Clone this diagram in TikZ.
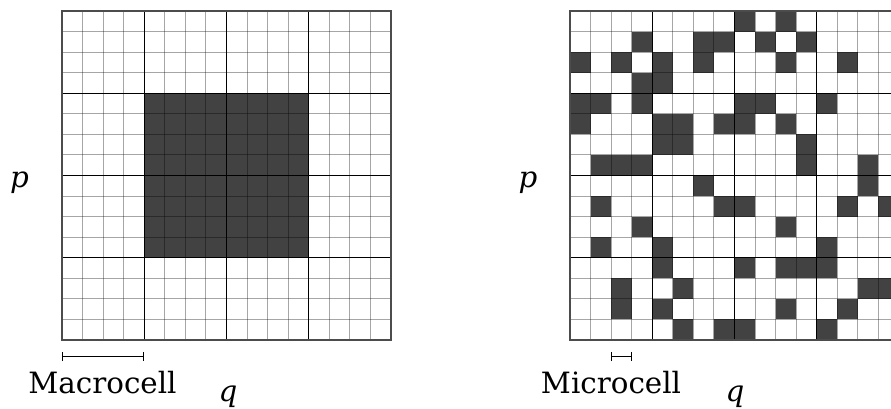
\documentclass[tikz,border=0pt]{standalone}
\usepackage{fontspec}
\setmainfont{DejaVu Serif}
\usetikzlibrary{arrows.meta}
\definecolor{cellfill}{RGB}{66,66,66}
\begin{document}
\begin{tikzpicture}[x=0.75pt,y=-0.75pt,
  fine/.style={black, opacity=0.35, line width=0.75pt},
  macro/.style={black, line width=1.1pt},
  border/.style={black!70, line width=1.2pt},
  lbl/.style={font=\fontsize{22}{26}\selectfont, inner sep=0pt, anchor=base},
  scalebar/.style={black, line width=0.9pt, {Bar[width=7pt]}-{Bar[width=7pt]}},
  cellscope/.style={x=15.421875pt, y=-15.421875pt}]
\useasboundingbox (0,0) rectangle (891,408);
\clip (0,0) rectangle (891,408);
% left grid
\begin{scope}[xshift=46.5pt, yshift=-8.25pt, cellscope]
  \fill[cellfill] (4,4) rectangle (12,12);
  \foreach \i in {1,...,15} {
    \draw[fine] (\i,0) -- (\i,16);
    \draw[fine] (0,\i) -- (16,\i);
  }
  \foreach \i in {4,8,12} {
    \draw[macro] (\i,0) -- (\i,16);
    \draw[macro] (0,\i) -- (16,\i);
  }
  \draw[border] (0,0) rectangle (16,16);
\end{scope}
% right grid
\begin{scope}[xshift=427.5pt, yshift=-8.25pt, cellscope]
  \foreach \c/\r in {8/0,10/0,
    3/1,6/1,7/1,9/1,11/1,
    0/2,2/2,4/2,6/2,10/2,13/2,
    3/3,4/3,
    0/4,1/4,3/4,8/4,9/4,12/4,
    0/5,4/5,5/5,7/5,8/5,10/5,
    4/6,5/6,11/6,
    1/7,2/7,3/7,11/7,14/7,
    6/8,14/8,
    1/9,7/9,8/9,13/9,15/9,
    3/10,10/10,
    1/11,4/11,12/11,
    4/12,8/12,10/12,11/12,12/12,
    2/13,5/13,14/13,15/13,
    2/14,4/14,10/14,13/14,
    5/15,7/15,8/15,12/15}
    \fill[cellfill] (\c,\r) rectangle ++(1,1);
  \foreach \i in {1,...,15} {
    \draw[fine] (\i,0) -- (\i,16);
    \draw[fine] (0,\i) -- (16,\i);
  }
  \foreach \i in {4,8,12} {
    \draw[macro] (\i,0) -- (\i,16);
    \draw[macro] (0,\i) -- (16,\i);
  }
  \draw[border] (0,0) rectangle (16,16);
\end{scope}
% labels
\node[lbl] (pL) at (19.5,187) {\textit{p}};
\node[lbl] (pR) at (528,187) {\textit{p}};
\node[lbl] (qL) at (228,401) {\textit{q}};
\node[lbl] (qR) at (735,401) {\textit{q}};
\node[lbl] (macro) at (102.5,393) {Macrocell};
\node[lbl] (micro) at (611,393) {Microcell};
% scale bars
\coordinate (maA) at (62,356.5);
\coordinate (maB) at (144.25,356.5);
\coordinate (miA) at (611.1,356.5);
\coordinate (miB) at (631.7,356.5);
\draw[scalebar] (maA) -- (maB);
\draw[scalebar] (miA) -- (miB);
\end{tikzpicture}
\end{document}
